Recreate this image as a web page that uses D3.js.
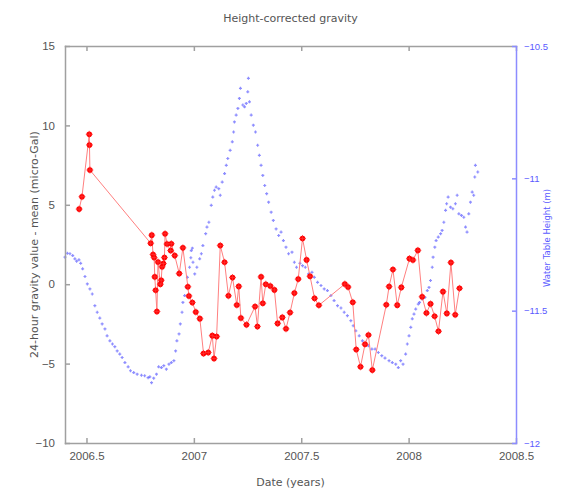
<!DOCTYPE html>
<meta charset="utf-8">
<style>
body { margin: 0; background: #fff; }
text { font-family: "DejaVu Sans", sans-serif; }
.axis text { fill: #555; font-size: 11.5px; font-family: "Liberation Sans", sans-serif; }
.axis path, .axis line { stroke: #a0a0a0; stroke-width: 1.5; }
.axis.right path, .axis.right line { stroke: #8c8cff; }
.axis.right text { fill: #5a5aff; font-size: 9.5px; }
.grav-line { fill: none; stroke: #ff8080; stroke-width: 1; }
</style>
<svg width="561" height="489"></svg>
<script src="https://d3js.org/d3.v7.min.js"></script>
<script>

// red series: 24-hour gravity value - mean (micro-Gal)
var gravDates = [2006.466, 2006.479, 2006.513, 2006.514, 2006.516,
  2006.799, 2006.804, 2006.810, 2006.815, 2006.818, 2006.822, 2006.828, 2006.833,
  2006.844, 2006.848, 2006.852, 2006.858, 2006.863, 2006.866, 2006.875, 2006.892,
  2006.895, 2006.911, 2006.932, 2006.949, 2006.972, 2006.977, 2006.993, 2007.009,
  2007.028, 2007.045, 2007.067, 2007.086, 2007.094, 2007.106, 2007.123, 2007.143,
  2007.161, 2007.180, 2007.200, 2007.209, 2007.219, 2007.245, 2007.285, 2007.296,
  2007.313, 2007.321, 2007.335, 2007.356, 2007.375, 2007.390, 2007.412, 2007.429,
  2007.448, 2007.468, 2007.486, 2007.506, 2007.525, 2007.541, 2007.562, 2007.582,
  2007.703, 2007.718, 2007.740, 2007.756, 2007.776, 2007.797, 2007.813, 2007.831,
  2007.896, 2007.909, 2007.927, 2007.947, 2007.966, 2008.004, 2008.020, 2008.043,
  2008.063, 2008.083, 2008.102, 2008.121, 2008.139, 2008.160, 2008.178, 2008.197,
  2008.217, 2008.237];
var gravValues = [4.73, 5.51, 9.44, 8.77, 7.19,
  2.58, 3.09, 1.87, 1.68, 0.46, -0.38, -1.72, 1.40,
  0.00, 0.25, 1.10, 1.30, 1.68, 3.18, 2.53, 2.12,
  2.55, 1.80, 0.67, 2.29, -0.16, -0.74, -1.15, -1.75,
  -2.17, -4.36, -4.30, -3.24, -4.68, -3.29, 2.44, 1.38,
  -0.73, 0.42, -1.31, -0.14, -2.13, -2.55, -1.41, -2.66,
  0.46, -1.20, 0.00, -0.11, -0.36, -2.47, -2.09, -2.81,
  -1.78, -0.56, 0.32, 2.88, 1.53, 0.50, -0.89, -1.33,
  0.01, -0.18, -1.14, -4.11, -5.20, -3.78, -3.20, -5.41,
  -1.30, -0.15, 0.92, -1.32, -0.20, 1.61, 1.52, 2.13,
  -0.79, -1.82, -1.24, -2.02, -2.97, -0.47, -1.84, 1.36,
  -1.92, -0.26];

// blue series: water table height (m)
var waterDates = [2006.400, 2006.411, 2006.423, 2006.436, 2006.446, 2006.454, 2006.465,
  2006.473, 2006.482, 2006.493, 2006.504, 2006.516, 2006.527, 2006.539, 2006.550,
  2006.562, 2006.573, 2006.586, 2006.596, 2006.609, 2006.621, 2006.632, 2006.643,
  2006.655, 2006.666, 2006.679, 2006.694, 2006.705, 2006.720, 2006.736, 2006.756,
  2006.771, 2006.787, 2006.795, 2006.803, 2006.813, 2006.826, 2006.836, 2006.849,
  2006.860, 2006.872, 2006.884, 2006.895, 2006.907, 2006.915, 2006.921, 2006.931,
  2006.937, 2006.945, 2006.949, 2006.957, 2006.965, 2006.970, 2006.980, 2006.986,
  2006.988, 2006.993, 2006.996, 2007.004, 2007.014, 2007.027, 2007.035, 2007.042,
  2007.055, 2007.061, 2007.070, 2007.081, 2007.088, 2007.096, 2007.104, 2007.116,
  2007.123, 2007.132, 2007.143, 2007.151, 2007.158, 2007.169, 2007.179, 2007.185,
  2007.189, 2007.197, 2007.205, 2007.212, 2007.217, 2007.228, 2007.236, 2007.244,
  2007.251, 2007.254, 2007.259, 2007.267, 2007.277, 2007.287, 2007.297, 2007.305,
  2007.313, 2007.321, 2007.330, 2007.339, 2007.348, 2007.360, 2007.370, 2007.383,
  2007.395, 2007.406, 2007.417, 2007.429, 2007.441, 2007.457, 2007.468, 2007.478,
  2007.494, 2007.506, 2007.519, 2007.534, 2007.550, 2007.561, 2007.576, 2007.592,
  2007.607, 2007.622, 2007.638, 2007.653, 2007.669, 2007.685, 2007.700, 2007.715,
  2007.731, 2007.742, 2007.754, 2007.770, 2007.785, 2007.797, 2007.813, 2007.829,
  2007.844, 2007.859, 2007.875, 2007.890, 2007.909, 2007.924, 2007.940, 2007.952,
  2007.963, 2007.974, 2007.986, 2007.994, 2008.002, 2008.010, 2008.017, 2008.025,
  2008.033, 2008.045, 2008.051, 2008.063, 2008.076, 2008.087, 2008.095, 2008.102,
  2008.110, 2008.114, 2008.122, 2008.128, 2008.138, 2008.149, 2008.156, 2008.164,
  2008.172, 2008.177, 2008.184, 2008.195, 2008.206, 2008.218, 2008.226, 2008.234,
  2008.246, 2008.257, 2008.265, 2008.272, 2008.280, 2008.288, 2008.296, 2008.303,
  2008.308, 2008.311, 2008.322];
var waterValues = [-11.298, -11.283, -11.285, -11.292, -11.304, -11.313, -11.308,
  -11.321, -11.342, -11.371, -11.399, -11.418, -11.437, -11.481, -11.506,
  -11.528, -11.550, -11.569, -11.595, -11.614, -11.626, -11.636, -11.652,
  -11.664, -11.677, -11.696, -11.712, -11.727, -11.734, -11.740, -11.744,
  -11.746, -11.753, -11.750, -11.772, -11.755, -11.740, -11.712, -11.715,
  -11.708, -11.721, -11.702, -11.696, -11.689, -11.652, -11.614, -11.588,
  -11.550, -11.506, -11.469, -11.443, -11.412, -11.374, -11.336, -11.300,
  -11.273, -11.264, -11.317, -11.361, -11.336, -11.304, -11.285, -11.254,
  -11.209, -11.184, -11.166, -11.102, -11.071, -11.045, -11.033, -11.039,
  -11.064, -11.014, -10.982, -10.951, -10.925, -10.894, -10.862, -10.825,
  -10.787, -10.761, -10.736, -10.698, -10.660, -10.723, -10.730, -10.717,
  -10.673, -10.622, -10.711, -10.761, -10.799, -10.825, -10.875, -10.913,
  -10.951, -10.989, -11.027, -11.058, -11.090, -11.128, -11.159, -11.191,
  -11.216, -11.203, -11.235, -11.260, -11.285, -11.279, -11.317, -11.336,
  -11.321, -11.330, -11.336, -11.361, -11.355, -11.374, -11.393, -11.405,
  -11.418, -11.424, -11.443, -11.462, -11.481, -11.490, -11.506, -11.519,
  -11.538, -11.557, -11.576, -11.595, -11.614, -11.624, -11.633, -11.645,
  -11.645, -11.658, -11.670, -11.679, -11.689, -11.696, -11.702, -11.715,
  -11.689, -11.702, -11.664, -11.626, -11.595, -11.563, -11.531, -11.513,
  -11.494, -11.475, -11.469, -11.456, -11.450, -11.424, -11.412, -11.386,
  -11.336, -11.298, -11.260, -11.235, -11.222, -11.209, -11.197, -11.166,
  -11.121, -11.096, -11.071, -11.109, -11.115, -11.096, -11.064, -11.134,
  -11.140, -11.147, -11.184, -11.203, -11.134, -11.090, -11.052, -11.064,
  -10.995, -10.951, -10.976];

var xTicks = [2006.5, 2007, 2007.5, 2008, 2008.5];
var leftTicks = [-10, -5, 0, 5, 10, 15];
var rightTicks = [-12, -11.5, -11, -10.5];

var svg = d3.select("svg"),
    mLeft = 65, mRight = 516, mTop = 46, mBottom = 443;

var x = d3.scaleLinear().domain([2006.4, 2008.5]).range([mLeft, mRight]);
var yL = d3.scaleLinear().domain([-10, 15]).range([mBottom, mTop]);
var yR = d3.scaleLinear().domain([-12, -10.5]).range([mBottom, mTop]);

var grav = gravDates.map(function(d, i) { return [d, gravValues[i]]; });
var water = waterDates.map(function(d, i) { return [d, waterValues[i]]; });

// water table points
svg.append("g").selectAll("path")
    .data(water)
    .enter().append("path")
    .attr("transform", function(d) { return "translate(" + x(d[0]) + "," + yR(d[1]) + ")"; })
    .attr("d", "M-1.5,0h3M0,-1.5v3")
    .attr("stroke", "#3030ff")
    .attr("stroke-opacity", 0.55)
    .attr("stroke-width", 1.2);

// gravity line + markers
var line = d3.line()
    .x(function(d) { return x(d[0]); })
    .y(function(d) { return yL(d[1]); });

svg.append("path")
    .datum(grav)
    .attr("class", "grav-line")
    .attr("d", line);

var mk = svg.append("g").selectAll("g")
    .data(grav)
    .enter().append("g")
    .attr("transform", function(d) { return "translate(" + x(d[0]) + "," + yL(d[1]) + ")"; });
mk.append("circle").attr("r", 2.8).attr("fill", "#ff0000");
mk.append("path").attr("d", "M-3.5,0h7M0,-3.5v7").attr("stroke", "#ff3030").attr("stroke-width", 0.8);

// axes
var fmt = function(d) { return d3.format("")(d); };

svg.append("g")
    .attr("class", "axis")
    .attr("transform", "translate(0," + mBottom + ")")
    .call(d3.axisBottom(x).tickValues(xTicks).tickFormat(fmt).tickSize(-5).tickSizeOuter(0).tickPadding(9));

svg.append("g")
    .attr("class", "axis")
    .attr("transform", "translate(0," + mTop + ")")
    .call(d3.axisTop(x).tickValues(xTicks).tickFormat("").tickSize(-5).tickSizeOuter(0));

svg.append("g")
    .attr("class", "axis")
    .attr("transform", "translate(" + mLeft + ",0)")
    .call(d3.axisLeft(yL).tickValues(leftTicks).tickFormat(fmt).tickSize(-5).tickSizeOuter(0).tickPadding(10));

svg.append("g")
    .attr("class", "axis right")
    .attr("transform", "translate(" + mRight + ",0)")
    .call(d3.axisRight(yR).tickValues(rightTicks).tickFormat(fmt).tickSize(-4).tickSizeOuter(0).tickPadding(8));

svg.selectAll(".axis .domain").attr("stroke-linecap", "square");

// titles
svg.append("text")
    .attr("x", (mLeft + mRight) / 2)
    .attr("y", 22)
    .attr("text-anchor", "middle")
    .attr("fill", "#555")
    .attr("font-size", "11px")
    .text("Height-corrected gravity");

svg.append("text")
    .attr("x", (mLeft + mRight) / 2)
    .attr("y", 486)
    .attr("text-anchor", "middle")
    .attr("fill", "#555")
    .attr("font-size", "11px")
    .text("Date (years)");

svg.append("text")
    .attr("transform", "translate(38," + (mTop + mBottom) / 2 + ") rotate(-90)")
    .attr("text-anchor", "middle")
    .attr("fill", "#555")
    .attr("font-size", "11px")
    .text("24-hour gravity value - mean (micro-Gal)");

svg.append("text")
    .attr("transform", "translate(550,238) rotate(-90)")
    .attr("text-anchor", "middle")
    .attr("fill", "#5a5aff")
    .attr("font-size", "8.5px")
    .text("Water Table Height (m)");

</script>
